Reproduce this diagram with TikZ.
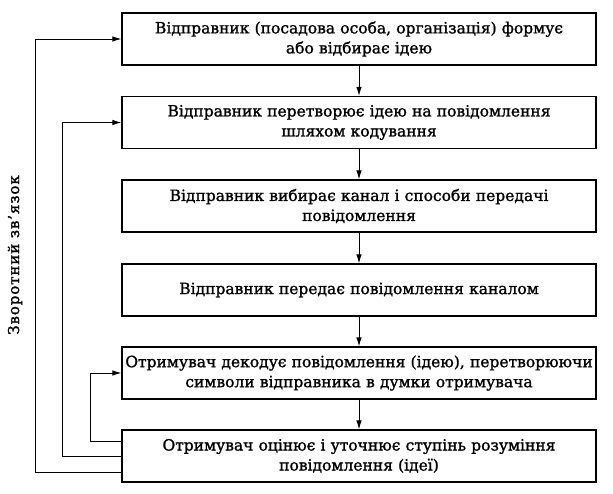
\documentclass[tikz,border=0pt]{standalone}
\usepackage{fontspec}
\setmainfont[FakeBold=1.3]{DejaVu Serif}
\usetikzlibrary{arrows.meta}
\begin{document}
\begin{tikzpicture}[x=1pt,y=1pt,
  box/.style={draw, line width=1.2pt, minimum width=474pt, minimum height=52pt,
    text width=474pt, align=center, inner sep=0pt, font=\fontsize{15.5}{20}\selectfont},
  arr/.style={-{Latex[length=9pt,width=5.5pt]}, line width=0.9pt},
  fb/.style={line width=0.9pt, -{Latex[length=9pt,width=5.5pt]}}]
\useasboundingbox (0,0) rectangle (613,494);
\node[box] (b1) at (359, 494-39) {Відправник (посадова особа, організація) формує\\або відбирає ідею};
\node[box] (b2) at (359, 494-122.5) {Відправник перетворює ідею на повідомлення\\шляхом кодування};
\node[box] (b3) at (359, 494-206) {Відправник вибирає канал і способи передачі\\повідомлення};
\node[box] (b4) at (359, 494-290) {Відправник передає повідомлення каналом};
\node[box] (b5) at (359, 494-373) {Отримувач декодує повідомлення (ідею), перетворюючи\\символи відправника в думки отримувача};
\node[box] (b6) at (359, 494-456) {Отримувач оцінює і уточнює ступінь розуміння\\повідомлення (ідеї)};
\draw[arr] (b1) -- (b2);
\draw[arr] (b2) -- (b3);
\draw[arr] (b3) -- (b4);
\draw[arr] (b4) -- (b5);
\draw[arr] (b5) -- (b6);
\draw[fb] ([yshift=15pt]b6.west) -- ++(-31,0) |- (b5.west);
\draw[fb] (b6.west) -- ++(-59,0) |- (b2.west);
\draw[fb] ([yshift=-16pt]b6.west) -- ++(-86,0) |- (b1.west);
\node[rotate=90, font=\fontsize{15}{17}\selectfont\addfontfeature{LetterSpace=6}] (lbl) at (15, 494-255) {Зворотний зв’язок};
\end{tikzpicture}
\end{document}
